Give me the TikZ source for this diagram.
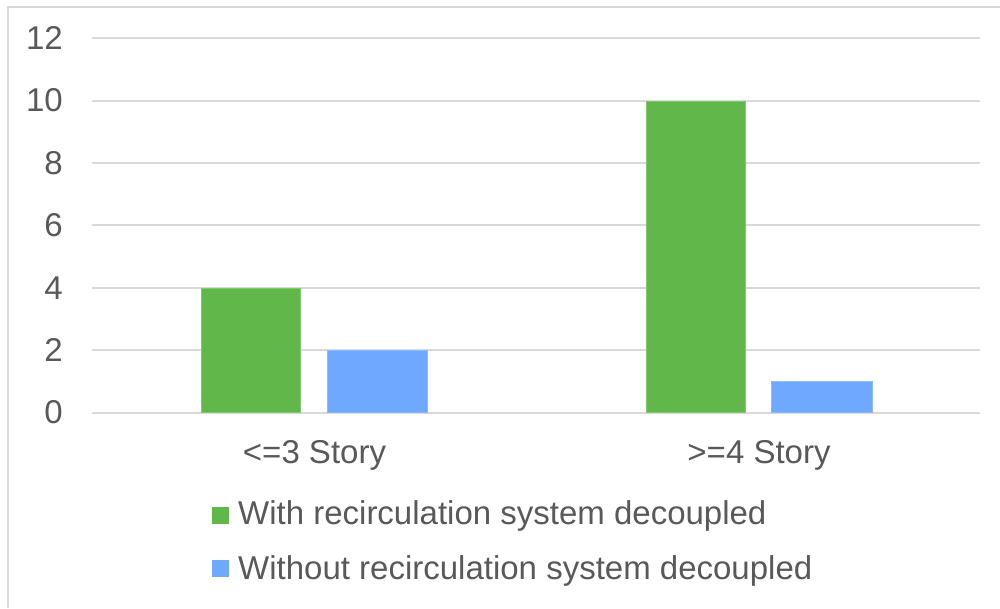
\documentclass[tikz,border=0pt]{standalone}
\usepackage{fontspec}
\setmainfont{Liberation Sans}
\definecolor{txt}{HTML}{595959}
\definecolor{grid}{HTML}{D9D9D9}
\definecolor{gbar}{HTML}{62B74A}
\definecolor{gbord}{HTML}{80C96C}
\definecolor{bbar}{HTML}{6FA8FF}
\definecolor{bbord}{HTML}{8DBBFF}
\begin{document}
\begin{tikzpicture}[x=1pt,y=-1pt,
  gridline/.style={draw=grid,line width=2pt},
  ticklab/.style={text=txt,font=\fontsize{33}{40}\selectfont,anchor=east,inner sep=0pt},
  catlab/.style={text=txt,font=\fontsize{33}{40}\selectfont,inner sep=0pt},
  leglab/.style={text=txt,font=\fontsize{33}{40}\selectfont,anchor=west,inner sep=0pt},
  gbarsty/.style={fill=gbar,draw=gbord,line width=1pt},
  bbarsty/.style={fill=bbar,draw=bbord,line width=1pt}]
\useasboundingbox (0,0) rectangle (1000,608);
\fill[white] (0,0) rectangle (1000,608);
\draw[draw=grid,line width=2pt] (7.5,608) -- (7.5,6.5) -- (1000,6.5);
% gridlines and tick labels
\foreach \v [count=\i from 0] in {0,2,4,6,8,10,12} {
  \pgfmathsetmacro{\yy}{412.5-62.4*\i}
  \draw[gridline] (92,\yy) -- (980,\yy);
  \node[ticklab] (t\v) at (63,\yy) {\v};
}
% bars
\draw[gbarsty] (201.7,412) rectangle (300,288.7);
\draw[bbarsty] (327.7,412) rectangle (427.7,350.8);
\draw[gbarsty] (646,412) rectangle (745,101);
\draw[bbarsty] (771.7,412) rectangle (872.3,381.6);
% category labels
\node[catlab] (c1) at (314.5,455) {<=3 Story};
\node[catlab] (c2) at (759,455) {>=4 Story};
% legend
\fill[gbar] (212,507) rectangle (229,524);
\node[leglab] (l1) at (238,516) {With recirculation system decoupled};
\fill[bbar] (212,560) rectangle (229,577);
\node[leglab] (l2) at (238,571) {Without recirculation system decoupled};
\end{tikzpicture}
\end{document}
